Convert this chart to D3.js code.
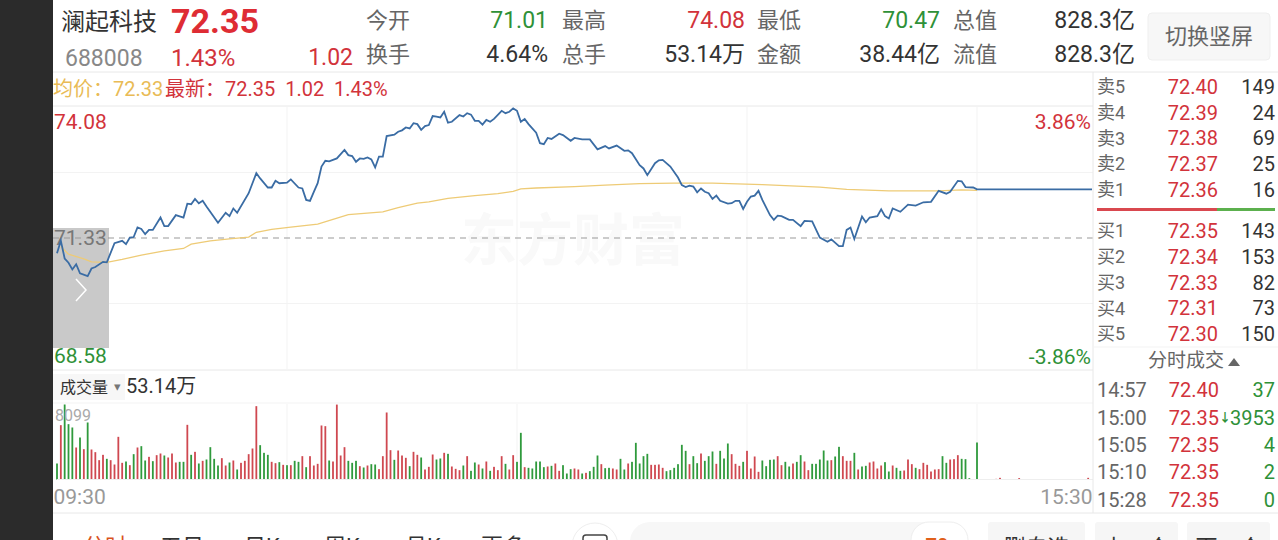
<!DOCTYPE html>
<html>
<head>
<meta charset="utf-8">
<script src="https://cdn.jsdelivr.net/npm/d3@7"></script>
<style>
    html, body { margin: 0; padding: 0; background: #fff; overflow: hidden; }
    text { font-family: Roboto, "Noto Sans CJK SC", sans-serif; }
</style>
</head>
<body>
<svg class="chart" width="1278" height="540"></svg>
<script>
var priceMinutes = [0,1,2,3,4,5,6,8,9,10,12,13,15,17,18,19,20,21,22,23,24,25,27,28,29,31,33,34,35,36,37,38,39,42,44,45,46,47,50,52,53,55,56,57,58,60,61,63,64,65,66,67,68,69,70,71,73,75,76,77,78,79,80,81,82,83,84,85,86,88,89,90,91,92,93,94,95,96,97,98,99,100,101,102,103,105,106,107,108,109,110,111,112,113,114,116,117,118,119,120,121,122,123,125,126,127,128,129,131,132,134,135,137,139,141,143,144,146,148,149,150,152,153,154,156,157,158,160,162,163,164,165,166,167,168,169,170,171,172,173,175,176,177,178,179,180,181,182,183,184,186,187,188,189,191,192,194,195,197,199,201,202,204,205,206,207,208,210,211,212,214,215,216,217,218,220,222,224,226,228,230,232,233,235,236,237,239,240,270];
var priceValues = [71.01,71.27,70.90,70.81,70.67,70.78,70.59,70.53,70.69,70.72,70.83,70.82,71.22,71.27,71.20,71.34,71.35,71.55,71.52,71.41,71.50,71.50,71.76,71.58,71.58,71.81,71.76,72.05,72.04,72.15,72.06,72.11,71.99,71.65,71.86,71.79,71.95,71.86,72.27,72.69,72.58,72.39,72.39,72.53,72.48,72.49,72.56,72.39,72.37,72.13,72.11,72.30,72.48,72.83,72.95,72.94,73.00,73.18,73.07,73.05,72.93,73.00,72.99,73.02,72.98,72.81,73.04,73.04,73.47,73.50,73.56,73.59,73.65,73.63,73.74,73.72,73.60,73.68,73.70,73.89,73.88,73.86,73.98,73.75,73.77,73.91,73.88,73.95,73.92,73.79,73.79,73.71,73.81,73.77,73.83,74.00,73.95,73.98,74.05,74.00,73.77,73.83,73.72,73.54,73.32,73.30,73.43,73.41,73.52,73.49,73.37,73.43,73.40,73.40,73.19,73.26,73.21,73.27,73.16,73.17,73.11,72.86,72.79,72.65,72.90,72.96,72.97,72.83,72.60,72.44,72.40,72.43,72.41,72.29,72.37,72.30,72.27,72.15,72.22,72.11,72.05,72.06,72.11,72.11,71.94,72.09,72.20,72.22,72.32,72.13,71.81,71.71,71.80,71.79,71.71,71.71,71.58,71.69,71.68,71.34,71.25,71.30,71.16,71.16,71.50,71.55,71.31,71.78,71.66,71.76,71.79,71.93,71.79,71.74,71.95,71.88,72.03,72.01,72.08,72.09,72.32,72.26,72.30,72.53,72.52,72.40,72.39,72.35,72.35];

// Average price line
var avgMinutes = [1,3,7,9,13,17,22,28,33,35,40,45,50,52,56,61,68,72,76,85,89,94,97,102,109,115,119,121,125,135,143,152,161,171,184,199,206,217,230,236,240];
var avgValues = [71.15,70.99,70.89,70.83,70.82,70.88,70.97,71.06,71.11,71.20,71.27,71.31,71.35,71.45,71.51,71.56,71.62,71.72,71.82,71.88,71.97,72.06,72.09,72.16,72.22,72.26,72.31,72.36,72.38,72.41,72.44,72.47,72.48,72.48,72.45,72.40,72.35,72.32,72.32,72.34,72.33];

// Volume per minute, 09:30 to 15:00
var volumes = [1728,5868,8099,5976,5616,3456,4536,3276,6156,3240,2952,2088,2664,2232,2088,1620,4608,1800,1944,1548,2736,3456,3600,2052,2448,1980,2628,2808,2592,2376,2808,1836,1908,1908,5904,2664,2988,1728,2016,2160,3492,2232,1512,2304,1512,1836,2052,1080,1800,2016,2736,3348,7920,3708,2880,2664,1908,1764,1872,1584,1548,1548,2016,1908,2520,1332,2520,1512,1692,5832,5760,2052,1944,8090,2592,3492,2016,1800,2016,1440,1296,1512,1656,1620,1116,2520,7236,3168,2124,3132,2592,2340,1440,2988,2664,2376,1080,1368,2700,2160,2268,2880,2772,1404,1152,1008,1512,2520,936,1836,1620,1188,1944,936,1368,1008,2520,1692,1080,2628,1908,5040,1332,1260,1188,1944,1944,1332,1404,1476,1728,936,1548,648,1116,1188,1080,648,720,900,1368,2592,1656,1224,1260,1188,1080,2232,1080,1728,1908,3960,1728,2520,2772,1584,1584,1620,1260,900,1008,1260,1656,3744,3096,1656,2520,1764,2808,2016,2520,3024,1692,3096,2268,3888,2736,1692,1476,1908,3096,1188,2484,828,2052,1440,2124,2160,2520,1548,1908,1404,1728,1908,2628,1944,1008,1692,1692,2160,3132,2052,2088,2484,3528,2520,2016,2016,2880,1080,1404,1476,1836,1944,1188,1512,1872,864,1512,1260,936,972,2160,1656,1260,1116,1800,1584,864,1080,1116,2520,1800,2160,2196,2628,2232,2196,144,0,3996];
var volumeColors = ("grgggrgrgr" + "rrrgrrrrgr" + "grggrgrrgr" + "rrggrgrgrg" + "gggrrgrgrr" + "rrrgggrrgr" + "grggrgrrrr" + "rgrrrrgggr" + "grggrrrrgr" + "rrgrrgrrrg" + "grgrrrgrgg" + "rgrgrrrgrr" + "ggrgggggrg" + "rrgggrrgrg" + "ggrggrrggr" + "gggggrrrrg" + "gggggrggrg" + "ggrgggrrrg" + "rrrrggggrr" + "ggrggrrggg" + "ggrggrrrgr" + "ggrrrrggrg" + "grrrgrrrrr" + "rggrrrgggg" + "g").split("");

// After-hours trades, after 15:00
var postMinutes = [245,246,251,269];
var postVolumes = [70,180,150,180];

// Axis ticks
var priceTicks = [74.08,71.33,68.58];
var pctTicks = ["3.86%","-3.86%"];
var timeTicks = [0,270];
var timeLabels = ["09:30","15:30"];
var gridMinutes = [60,120,180,240];
var gridPrices = [72.705,69.955];

// Order book
var sellLabels = ["卖5","卖4","卖3","卖2","卖1"];
var sellPrices = ["72.40","72.39","72.38","72.37","72.36"];
var sellSizes = [149,24,69,25,16];
var buyLabels = ["买1","买2","买3","买4","买5"];
var buyPrices = ["72.35","72.34","72.33","72.31","72.30"];
var buySizes = [143,153,82,73,150];

// Trade list
var tradeTimes = ["14:57","15:00","15:05","15:10","15:28"];
var tradePrices = ["72.40","72.35","72.35","72.35","72.35"];
var tradeSizes = ["37","3953","4","2","0"];

// Colours
var red = "#d2333b";
var green = "#2f9138";
var dark = "#333";
var gray = "#666";
var gold = "#e9bb55";
var faint = "#f3f3f3";
var rule = "#e8e8e8";

var canvas = d3.select(".chart");

// Scales for the price and volume panels
var xScale = d3.scaleLinear().domain([0, 270]).range([57, 1092]);
var yScale = d3.scaleLinear().domain([68.58, 74.08]).range([369, 107]);
var volScale = d3.scaleLinear().domain([0, 8099]).range([479.5, 404.5]);

// Helper to add one text element
function label(x, y, str, size, color, anchor, weight)
{
    return canvas.append("text")
        .attr("x", x)
        .attr("y", y)
        .attr("dy", "0.36em")
        .attr("font-size", size)
        .attr("fill", color)
        .attr("text-anchor", anchor || "start")
        .attr("font-weight", weight || 400)
        .text(str);
}

// Helper to add one horizontal or vertical rule
function rline(x1, y1, x2, y2, color)
{
    canvas.append("line")
        .attr("x1", x1).attr("y1", y1)
        .attr("x2", x2).attr("y2", y2)
        .attr("stroke", color)
        .attr("stroke-width", 1);
}

// Dark strip on the left of the screenshot
canvas.append("rect").attr("x", 0).attr("y", 0).attr("width", 53).attr("height", 540).attr("fill", "#2b2b2b");

// Header block
label(61, 21, "澜起科技", 24, dark);
label(171, 21, "72.35", 34, "#de2c34", "start", 700);
label(65, 58, "688008", 23, "#888");
label(171, 57, "1.43%", 24, red);
label(353, 57, "1.02", 23, red, "end");

var headLabels = [["今开","换手"],["最高","总手"],["最低","金额"],["总值","流值"]];
var headLabelX = [366, 562, 757, 953];
var headValues = [["71.01","4.64%"],["74.08","53.14万"],["70.47","38.44亿"],["828.3亿","828.3亿"]];
var headValueX = [548, 745, 940, 1135];
var headColors = [[green,dark],[red,dark],[green,dark],[dark,dark]];
headLabels.forEach(function(pair, i) {
    pair.forEach(function(str, j) {
        label(headLabelX[i], 20 + j * 34, str, 22, gray);
        label(headValueX[i], 20 + j * 34, headValues[i][j], 23, headColors[i][j], "end");
    });
});

// Switch button
canvas.append("rect").attr("x", 1148).attr("y", 13).attr("width", 122).attr("height", 47).attr("rx", 4)
    .attr("fill", "#f7f7f7").attr("stroke", "#efefef");
label(1209, 36, "切换竖屏", 22, gray, "middle");

rline(53, 72, 1278, 72, rule);
rline(53, 106, 1093, 106, rule);

// Average / latest legend
label(53, 89, "均价：72.33", 20, gold);
label(165, 89, "最新：72.35  1.02  1.43%", 20, red).style("white-space", "pre");

// Watermark
label(573, 240, "东方财富", 56, "#f9f9f9", "middle", 700);

// Grid of the price panel
gridMinutes.forEach(function(m) {
    rline(xScale(m), 107, xScale(m), 369, faint);
    rline(xScale(m), 404, xScale(m), 480, faint);
});
gridPrices.forEach(function(p) {
    rline(53, yScale(p), 1093, yScale(p), faint);
});

// Grey handle over the left of the chart
canvas.append("rect").attr("x", 53).attr("y", 228).attr("width", 56).attr("height", 120).attr("fill", "#c9c9c9");
canvas.append("path").attr("d", "M76,279L86,290L76,301").attr("fill", "none").attr("stroke", "#fff").attr("stroke-width", 1.5);

// Previous close, dashed
canvas.append("line")
    .attr("x1", 53).attr("x2", 1093)
    .attr("y1", yScale(71.33)).attr("y2", yScale(71.33))
    .attr("stroke", "#999")
    .attr("stroke-dasharray", "6,5");

// Price labels on the left
var yAxis = d3.axisRight(yScale).tickValues(priceTicks).tickSize(0).tickFormat(d3.format(".2f"));
var yAxisG = canvas.append("g").attr("transform", "translate(54,0)").call(yAxis);
yAxisG.select(".domain").remove();
yAxisG.selectAll("text")
    .attr("x", 0)
    .attr("font-size", 21)
    .attr("font-family", null)
    .attr("fill", function(d) { return d > 71.33 ? red : (d < 71.33 ? green : "#777"); })
    .attr("dy", function(d) { return d > 71.33 ? "1.0em" : (d < 71.33 ? "-0.3em" : "0.32em"); });

// Percent labels on the right
label(1091, 121, pctTicks[0], 21, red, "end");
label(1091, 356, pctTicks[1], 21, green, "end");

// Average line
var line = d3.line()
    .x(function(d) { return xScale(d[0]); })
    .y(function(d) { return yScale(d[1]); });

canvas.append("path")
    .attr("d", line(d3.zip(avgMinutes, avgValues)))
    .attr("fill", "none")
    .attr("stroke", "#eecb76")
    .attr("stroke-width", 1.3);

// Price line
canvas.append("path")
    .attr("d", line(d3.zip(priceMinutes, priceValues)))
    .attr("fill", "none")
    .attr("stroke", "#3a6ca4")
    .attr("stroke-width", 1.8);

// Volume header
rline(53, 370, 1093, 370, rule);
canvas.append("rect").attr("x", 53).attr("y", 374).attr("width", 72).attr("height", 26).attr("fill", "#f7f7f7");
label(60, 387, "成交量", 16, dark);
label(117, 386, "▾", 13, "#777", "middle");
label(126, 386, "53.14万", 20, dark);
rline(53, 403, 1093, 403, faint);

// Volume bars
canvas.selectAll("rect.vol")
    .data(volumes)
    .enter().append("rect")
    .attr("class", "vol")
    .attr("x", function(d, i) { return xScale(i) - 0.9; })
    .attr("y", function(d) { return volScale(d); })
    .attr("width", 1.8)
    .attr("height", function(d) { return volScale(0) - volScale(d); })
    .attr("fill", function(d, i) { return volumeColors[i] == "r" ? "#cf4850" : "#2f9a3c"; });

canvas.selectAll("rect.post")
    .data(postVolumes)
    .enter().append("rect")
    .attr("class", "post")
    .attr("x", function(d, i) { return xScale(postMinutes[i]) - 0.9; })
    .attr("y", function(d) { return volScale(d); })
    .attr("width", 1.8)
    .attr("height", function(d) { return volScale(0) - volScale(d); })
    .attr("fill", "#cf4850");

rline(57, 479.5, 1093, 479.5, "#eee");
label(55, 415, "8099", 16, "#aaa");

// Time axis
var xAxis = d3.axisBottom(xScale)
    .tickValues(timeTicks)
    .tickSize(0)
    .tickFormat(function(d, i) { return timeLabels[i]; });
var xAxisG = canvas.append("g").attr("transform", "translate(0,486)").call(xAxis);
xAxisG.select(".domain").remove();
xAxisG.selectAll("text")
    .attr("font-size", 21)
    .attr("font-family", null)
    .attr("fill", "#999")
    .attr("text-anchor", function(d) { return d == 0 ? "start" : "end"; })
    .attr("dx", function(d) { return d == 0 ? -4 : 0; });

// Right hand panel: order book
rline(1093, 72, 1093, 513, rule);
sellLabels.forEach(function(str, i) {
    var y = 87 + i * 25.6;
    label(1097, y, str, 18, gray);
    label(1218, y, sellPrices[i], 20, red, "end");
    label(1275, y, sellSizes[i], 20, dark, "end");
});
buyLabels.forEach(function(str, i) {
    var y = 231 + i * 25.7;
    label(1097, y, str, 18, gray);
    label(1218, y, buyPrices[i], 20, red, "end");
    label(1275, y, buySizes[i], 20, dark, "end");
});
canvas.append("rect").attr("x", 1097).attr("y", 208).attr("width", 120).attr("height", 3).attr("fill", "#d9484f");
canvas.append("rect").attr("x", 1217).attr("y", 208).attr("width", 58).attr("height", 3).attr("fill", "#5cb04e");

// Trade list
rline(1093, 347, 1278, 347, faint);
label(1186, 360, "分时成交", 19, gray, "middle");
canvas.append("path").attr("d", "M1228,366L1240,366L1234,358Z").attr("fill", "#666");
tradeTimes.forEach(function(str, i) {
    var y = 390 + i * 27.4;
    label(1097, y, str, 20, gray);
    label(1219, y, tradePrices[i], 20, red, "end");
    label(1275, y, tradeSizes[i], 20, green, "end");
});
// Down arrow in front of the 15:00 size
label(1225, 390 + 27.4, "↓", 12, green, "middle", 700);

rline(53, 513, 1278, 513, rule);

// Bottom bar, cut off by the screenshot
var tabNames = ["分时","五日","日K","周K","月K","更多"];
var tabX = [105, 182, 262, 342, 423, 503];
tabNames.forEach(function(str, i) {
    label(tabX[i], 546, str, 22, i == 0 ? "#d9541e" : dark, "middle");
});
canvas.append("circle").attr("cx", 595).attr("cy", 546).attr("r", 23).attr("fill", "#fff").attr("stroke", "#eee");
canvas.append("rect").attr("x", 583).attr("y", 535).attr("width", 24).attr("height", 20).attr("rx", 3).attr("fill", "none").attr("stroke", "#444").attr("stroke-width", 1.5);
canvas.append("rect").attr("x", 630).attr("y", 522).attr("width", 338).attr("height", 40).attr("rx", 20).attr("fill", "#f7f7f7");
canvas.append("rect").attr("x", 911).attr("y", 522).attr("width", 57).attr("height", 40).attr("rx", 18).attr("fill", "#fff").attr("stroke", "#eee");
label(937, 546, "70", 20, "#e0601a", "middle", 700);
[[988, 97, "删自选"], [1095, 83, "上一个"], [1187, 83, "下一个"]].forEach(function(b) {
    canvas.append("rect").attr("x", b[0]).attr("y", 522).attr("width", b[1]).attr("height", 40).attr("rx", 3).attr("fill", "#f6f6f6");
    label(b[0] + b[1] / 2, 547, b[2], 22, dark, "middle");
});
</script>
</body>
</html>
